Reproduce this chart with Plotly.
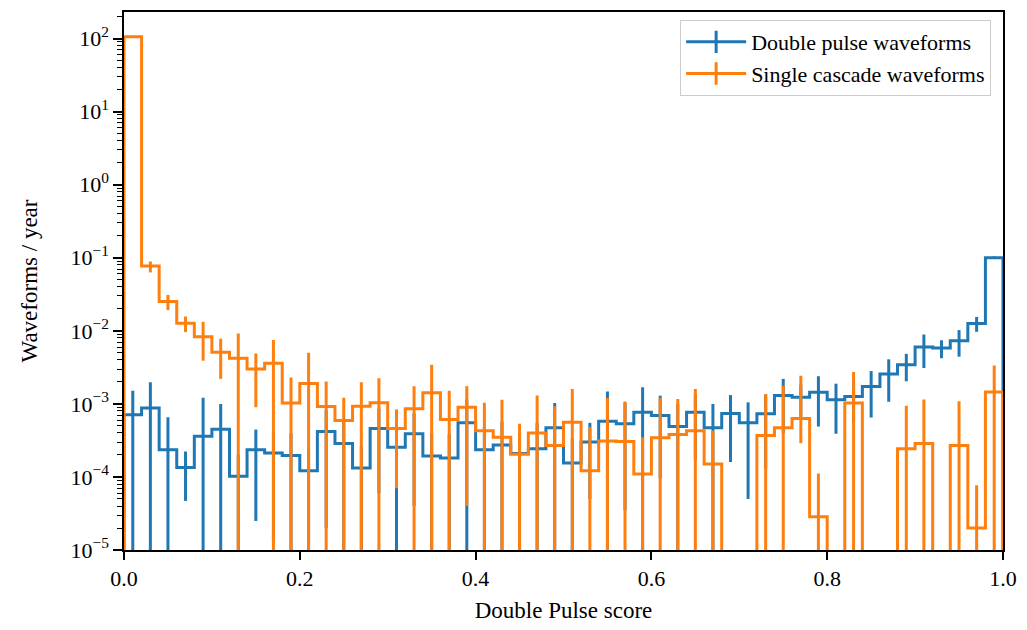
import numpy as np
import plotly.graph_objects as go

# ---- data -------------------------------------------------------------
bin_edges = np.linspace(0.0, 1.0, 51)

double_pulse = [0.00071, 0.00088, 0.000235, 0.000135, 0.00036, 0.00045, 0.000102, 0.000235, 0.000213, 0.000196,
                0.000122, 0.00042, 0.000288, 0.000133, 0.00046, 0.000254, 0.00039, 0.000193, 0.000182, 0.00055,
                0.000236, 0.000274, 0.00021, 0.000244, 0.00047, 0.000155, 0.0003, 0.00058, 0.000535, 0.00077,
                0.000695, 0.00049, 0.00077, 0.00047, 0.00074, 0.00055, 0.00073, 0.0013, 0.00123, 0.00144,
                0.00114, 0.00126, 0.00173, 0.00257, 0.00344, 0.006, 0.00582, 0.00733, 0.0126, 0.100]
double_pulse_err = [0.0008, 0.0011, 0.00042, 0.000088, 0.00085, 0.00055, 0.0001, 0.00021, 0.0002, 0.0002,
                    0.00012, 0.0004, 0.0003, 0.00013, 0.0004, 0.0003, 0.00035, 0.0002, 0.0002, 0.0006,
                    0.00025, 0.0003, 0.0002, 0.0003, 0.00056, 0.00018, 0.00025, 0.0009, 0.0005, 0.00092,
                    0.0006, 0.0005, 0.0006, 0.00053, 0.00058, 0.0005, 0.0006, 0.0009, 0.0006, 0.00095,
                    0.00075, 0.0007, 0.00108, 0.0015, 0.0014, 0.0029, 0.0016, 0.0029, 0.0029, 0.004]

single_cascade = [106.0, 0.077, 0.0252, 0.0127, 0.0083, 0.0051, 0.0042, 0.0030, 0.0036, 0.00103,
                  0.0019, 0.00092, 0.00059, 0.00093, 0.00104, 0.00046, 0.00086, 0.00142, 0.00061, 0.0009,
                  0.00043, 0.00035, 0.000204, 0.0004, 0.00027, 0.00056, 0.000122, 0.00031, 0.000305, 0.00011,
                  0.000345, 0.00038, 0.00043, 0.00015, 0.0, 0.0, 0.00037, 0.00047, 0.00063, 0.0000285,
                  0.0, 0.00103, 0.0, 0.0, 0.000244, 0.000288, 0.0, 0.00027, 0.00002, 0.00146]
single_cascade_err_hi = [1.0, 0.012, 0.0058, 0.003, 0.005, 0.0027, 0.005, 0.0019, 0.0039, 0.00127,
                         0.0031, 0.0011, 0.00062, 0.00105, 0.0012, 0.00038, 0.00088, 0.002, 0.0009, 0.00085,
                         0.00061, 0.00079, 0.00033, 0.0009, 0.00066, 0.00104, 0.00036, 0.00089, 0.00077, 0.00024,
                         0.00087, 0.00079, 0.00117, 0.00028, 0.0, 0.0, 0.001, 0.0013, 0.0018, 0.000083,
                         0.0, 0.0017, 0.0, 0.0, 0.0007, 0.00086, 0.0, 0.00082, 0.000057, 0.0019]
single_cascade_err_lo = [1.0, 0.014, 0.006, 0.0031, 0.0044, 0.0029, 0.005, 0.0021, 0.0039, 0.00127,
                         0.0031, 0.0011, 0.00062, 0.00105, 0.0012, 0.00039, 0.00088, 0.002, 0.0009, 0.00086,
                         0.00061, 0.00079, 0.00033, 0.0009, 0.00066, 0.00104, 0.00036, 0.00089, 0.00077, 0.00024,
                         0.00087, 0.00079, 0.00117, 0.00028, 0.0, 0.0, 0.001, 0.0013, 0.00034, 0.000083,
                         0.0, 0.0017, 0.0, 0.0, 0.0007, 0.00086, 0.0, 0.00082, 0.000057, 0.0019]

series_names = ["Double pulse waveforms", "Single cascade waveforms"]
colors = ["#1f77b4", "#ff7f0e"]

y_tick_exponents = [-5, -4, -3, -2, -1, 0, 1, 2]
x_tick_labels = ["0.0", "0.2", "0.4", "0.6", "0.8", "1.0"]

FLOOR = 1e-12  # drawing floor for empty bins on log axis


def step_xy(vals):
    v = [x if x > 0 else FLOOR for x in vals]
    xs = [bin_edges[0]] + list(bin_edges) + [bin_edges[-1]]
    ys = [FLOOR] + v + [v[-1]] + [FLOOR]
    return xs, ys


centers = 0.5 * (bin_edges[:-1] + bin_edges[1:])

fig = go.Figure()

for vals, hi, lo, name, col in [
    (double_pulse, double_pulse_err, double_pulse_err, series_names[0], colors[0]),
    (single_cascade, single_cascade_err_hi, single_cascade_err_lo, series_names[1], colors[1]),
]:
    xs, ys = step_xy(vals)
    fig.add_trace(go.Scatter(x=xs, y=ys, mode="lines", line=dict(color=col, width=3, shape="hv"),
                             showlegend=False, hoverinfo="skip"))
    cx = [c for c, v in zip(centers, vals) if v > 0]
    cy = [v for v in vals if v > 0]
    ch = [h for h, v in zip(hi, vals) if v > 0]
    cl = [l for l, v in zip(lo, vals) if v > 0]
    fig.add_trace(go.Scatter(x=cx, y=cy, mode="markers", marker=dict(size=0.1, color=col, opacity=0),
                             error_y=dict(type="data", array=ch, arrayminus=cl, symmetric=False,
                                          color=col, thickness=3, width=0),
                             showlegend=False, hoverinfo="skip"))
    # legend entry (line with vertical error mark)
    fig.add_trace(go.Scatter(x=[None], y=[None], mode="lines+markers", name=name,
                             line=dict(color=col, width=3),
                             marker=dict(symbol="line-ns-open", size=20, color=col,
                                         line=dict(color=col, width=3))))

font_family = "Liberation Serif"

fig.update_layout(
    width=1027, height=630,
    margin=dict(l=124, r=23, t=10, b=80),
    plot_bgcolor="white", paper_bgcolor="white",
    font=dict(family=font_family, size=21, color="black"),
    showlegend=True,
    legend=dict(x=0.9865, y=0.985, xanchor="right", yanchor="top",
                bgcolor="rgba(255,255,255,0.8)", bordercolor="#cccccc", borderwidth=1,
                font=dict(family=font_family, size=22), itemwidth=60,
                tracegroupgap=0),
)

fig.update_xaxes(range=[0, 1], tickvals=[float(t) for t in x_tick_labels], ticktext=x_tick_labels,
                 showgrid=False, zeroline=False,
                 showline=True, linecolor="black", linewidth=1.5, mirror=True,
                 ticks="outside", ticklen=8, tickwidth=1.5, tickcolor="black",
                 tickfont=dict(size=22),
                 title=dict(text="Double Pulse score", font=dict(size=23), standoff=12))
fig.update_yaxes(type="log", range=[-5, 2.364],
                 tickvals=[10.0 ** e for e in y_tick_exponents],
                 ticktext=["10<sup>%s</sup>" % (str(e).replace("-", "\u2212")) for e in y_tick_exponents],
                 showgrid=False,
                 zeroline=False, showline=True, linecolor="black", linewidth=1.5, mirror=True,
                 ticks="outside", ticklen=9, tickwidth=1.5, tickcolor="black",
                 tickfont=dict(size=22),
                 minor=dict(ticks="outside", ticklen=5, tickwidth=1, tickcolor="black", dtick="D1", showgrid=False),
                 title=dict(text="Waveforms / year", font=dict(size=23), standoff=26))

fig.write_html("out.html")
